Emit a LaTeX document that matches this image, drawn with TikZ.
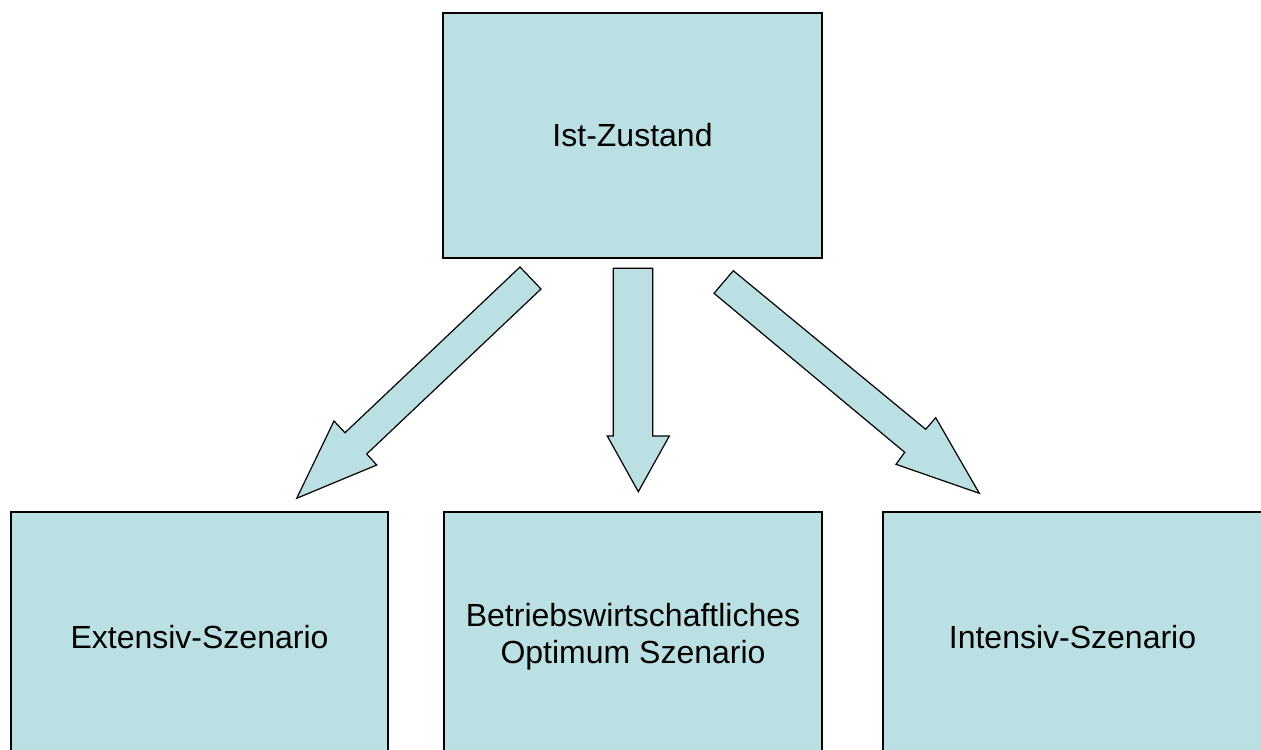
\documentclass[tikz,border=0pt]{standalone}
\usepackage{fontspec}
\setmainfont{Liberation Sans}
\definecolor{boxfill}{RGB}{187,224,227}
\begin{document}
\begin{tikzpicture}[x=0.5pt,y=-0.5pt,
  box/.style={draw=black, line width=0.8pt, fill=boxfill, inner sep=0pt,
    align=center, font=\fontsize{16}{18.4}\selectfont},
  blockarrow/.style={draw=black, line width=0.6pt, fill=boxfill, line join=miter}]
\useasboundingbox (0,0) rectangle (1261,749);
\clip (0,0) rectangle (1261,749);
\fill[white] (0,0) rectangle (1261,749);

% states
\node[box, minimum width=189.5pt, minimum height=122.5pt] (ist) at (632.5,135.5) {Ist-Zustand};
\node[box, minimum width=188.5pt, minimum height=125pt] (ext) at (199.5,637) {Extensiv-Szenario};
\node[box, minimum width=189pt, minimum height=125pt] (opt) at (633,637) {Betriebswirtschaftliches\\Optimum Szenario};
\node[box, minimum width=189.5pt, minimum height=125pt] (int) at (1072.5,637) {Intensiv-Szenario};

% block arrows from the current state to the scenarios
\draw[blockarrow] (520,267) -- (541,289) -- (366.7,454) -- (376.7,465)
  -- (296.7,498.3) -- (334,421) -- (345,432.7) -- cycle;
\draw[blockarrow] (613.3,268.3) -- (652.7,268.3) -- (652.7,436) -- (669.3,436)
  -- (638.3,491.7) -- (607.3,436) -- (613.3,436) -- cycle;
\draw[blockarrow] (733.3,270.7) -- (925.7,429.3) -- (935.7,417.7) -- (979.3,493.3)
  -- (896,464.3) -- (904.7,452.3) -- (714,293.3) -- cycle;
\end{tikzpicture}
\end{document}
